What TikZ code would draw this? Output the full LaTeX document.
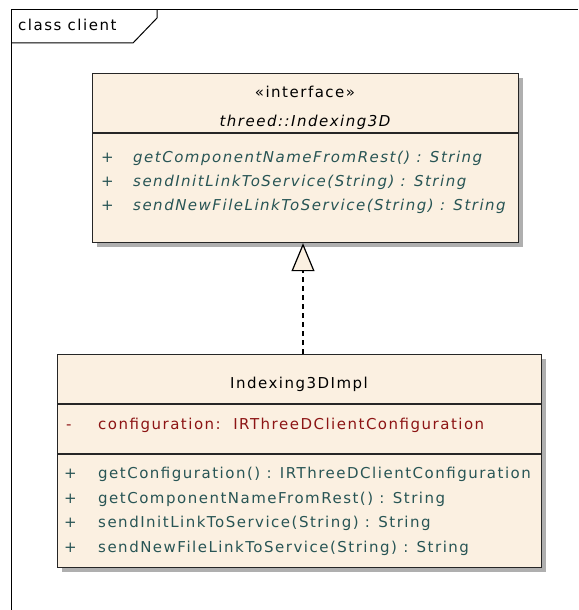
\documentclass[tikz,border=0pt]{standalone}
\usepackage{fontspec}
\setmainfont{DejaVu Sans}[LetterSpace=10]
\usetikzlibrary{arrows.meta}
\definecolor{cream}{RGB}{251,240,225}
\definecolor{opcol}{RGB}{40,85,85}
\definecolor{attcol}{RGB}{140,20,20}
\definecolor{shadowcol}{RGB}{175,175,175}
\newcommand{\umlfont}{\fontsize{15}{17}\selectfont}
\tikzset{
  umlbox/.style={draw=black!85, line width=1.2pt, fill=cream, anchor=north west, inner sep=0pt},
  shadowbox/.style={fill=shadowcol, draw=none, anchor=north west, inner sep=0pt},
  sep/.style={draw=black!85, line width=1.2pt},
  txt/.style={anchor=base west, inner sep=0pt, font=\umlfont},
  ctxt/.style={anchor=base, inner sep=0pt, font=\umlfont},
  optxt/.style={txt, text=opcol},
  itoptxt/.style={optxt, font=\umlfont\itshape},
  atttxt/.style={txt, text=attcol},
  frameline/.style={draw=black, line width=1pt},
  realize/.style={draw=black, line width=1.2pt, dash pattern=on 5pt off 4pt}
}
\begin{document}
\begin{tikzpicture}[x=1pt,y=-1pt]
\useasboundingbox (0,0) rectangle (578,610);
% frame
\draw[frameline] (11,610) -- (11,10) -- (578,10);
\draw[frameline] (11,43) -- (133,43) -- (157,18) -- (157,10);
\node[txt] (frametitle) at (18,31) {class client};
% interface
\node[shadowbox, minimum width=426pt, minimum height=169pt] (ifaceshadow) at (97,78) {};
\node[umlbox, minimum width=426pt, minimum height=169pt] (iface) at (92,73) {};
\draw[sep] (92,133) -- (518,133);
\node[ctxt] (stereo) at (305,97) {«interface»};
\node[ctxt, font=\umlfont\itshape] (ifname) at (305,126) {threed::Indexing3D};
\node[optxt] (ip1) at (101,162) {+};
\node[optxt] (ip2) at (101,186) {+};
\node[optxt] (ip3) at (101,210) {+};
\node[itoptxt] (im1) at (133,162) {getComponentNameFromRest() : String};
\node[itoptxt] (im2) at (133,186) {sendInitLinkToService(String) : String};
\node[itoptxt] (im3) at (133,210) {sendNewFileLinkToService(String) : String};
% implementation
\node[shadowbox, minimum width=484pt, minimum height=213pt] (implshadow) at (62,359) {};
\node[umlbox, minimum width=484pt, minimum height=213pt] (impl) at (57,354) {};
\draw[sep] (57,404) -- (541,404);
\draw[sep] (57,454) -- (541,454);
\node[ctxt] (implname) at (299,388) {Indexing3DImpl};
\node[atttxt] (ap1) at (66,429) {-};
\node[atttxt] (a1) at (98,429) {configuration:\ \ IRThreeDClientConfiguration};
\node[optxt] (mp1) at (64,478) {+};
\node[optxt] (mp2) at (64,503) {+};
\node[optxt] (mp3) at (64,527) {+};
\node[optxt] (mp4) at (64,552) {+};
\node[optxt] (m1) at (98,478) {getConfiguration() : IRThreeDClientConfiguration};
\node[optxt] (m2) at (98,503) {getComponentNameFromRest() : String};
\node[optxt] (m3) at (98,527) {sendInitLinkToService(String) : String};
\node[optxt] (m4) at (98,552) {sendNewFileLinkToService(String) : String};
% realization
\coordinate (ax) at (303,300);
\draw[realize, -{Triangle[open, length=28pt, width=23pt, fill=cream, line width=1.2pt]}] (impl.north -| ax) -- (iface.south -| ax);
\end{tikzpicture}
\end{document}
